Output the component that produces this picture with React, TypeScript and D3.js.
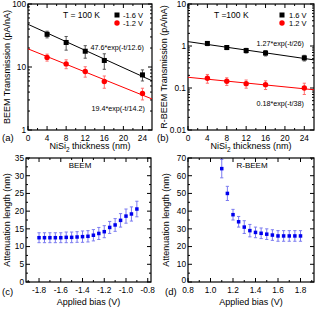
import React, { useRef, useEffect } from 'react';
import * as d3 from 'd3';

// (a)/(b) transmission vs NiSi2 thickness
const thickness = [4, 8, 12, 16, 24];
const beemHigh = [33, 24.5, 17.8, 12.7, 7.5];
const beemHighErr = [4, 6, 4, 3.5, 1.5];
const beemLow = [14.2, 11.2, 8.5, 5.9, 3.8];
const beemLowErr = [1.8, 1.8, 1.6, 1.3, 0.8];
const rbeemHigh = [1.15, 0.92, 0.78, 0.68, 0.52];
const rbeemHighErr = [0.13, 0.1, 0.1, 0.1, 0.08];
const rbeemLow = [0.17, 0.145, 0.127, 0.12, 0.1];
const rbeemLowErr = [0.04, 0.03, 0.028, 0.028, 0.03];

// fit parameters: amplitude, decay length
const beemFitHigh = [47.6, 12.6];
const beemFitLow = [19.4, 14.2];
const rbeemFitHigh = [1.27, 26];
const rbeemFitLow = [0.18, 38];

// (c)/(d) attenuation length vs bias
const biasC = [-1.8, -1.75, -1.7, -1.65, -1.6, -1.55, -1.5, -1.45, -1.4, -1.35, -1.3, -1.25, -1.2, -1.15, -1.1, -1.05, -1.0, -0.95, -0.9];
const attenC = [12.5, 12.5, 12.5, 12.5, 12.5, 12.6, 12.6, 12.7, 12.8, 12.9, 13.2, 13.7, 14.2, 15.4, 16.1, 17.4, 18.6, 19.2, 20.6];
const attenCErr = [1.4, 1.4, 1.4, 1.4, 1.4, 1.5, 1.5, 1.5, 1.6, 1.6, 1.6, 1.7, 1.7, 1.7, 1.8, 1.9, 2.0, 2.0, 2.2];
const biasD = [1.1, 1.15, 1.2, 1.25, 1.3, 1.35, 1.4, 1.45, 1.5, 1.55, 1.6, 1.65, 1.7, 1.75, 1.8];
const attenD = [64, 50, 38, 34, 31, 29, 28, 27.5, 27, 26.5, 26, 26, 26, 26, 26];
const attenDErr = [5.2, 4, 3, 3, 3.6, 3.5, 3, 3, 3, 3, 3, 3, 3, 3, 3];

// ticks
const thickTicks = [0, 4, 8, 12, 16, 20, 24];
const thickMinor = [2, 6, 10, 14, 18, 22];
const beemTicks = [1, 10, 100];
const beemTickLabels = ['1', '10', '100'];
const rbeemTicks = [0.01, 0.1, 1, 10];
const rbeemTickLabels = ['0.01', '0.1', '1', '10'];
const biasCTicks = [-1.8, -1.6, -1.4, -1.2, -1.0, -0.8];
const biasCLabels = ['-1.8', '-1.6', '-1.4', '-1.2', '-1.0', '-0.8'];
const biasCMinor = [-1.9, -1.7, -1.5, -1.3, -1.1, -0.9];
const biasDTicks = [0.8, 1.0, 1.2, 1.4, 1.6, 1.8];
const biasDLabels = ['0.8', '1.0', '1.2', '1.4', '1.6', '1.8'];
const biasDMinor = [0.9, 1.1, 1.3, 1.5, 1.7, 1.9];
const attenCTicks = [0, 5, 10, 15, 20, 25, 30, 35];
const attenCMinor = [2.5, 7.5, 12.5, 17.5, 22.5, 27.5, 32.5];
const attenDTicks = [0, 10, 20, 30, 40, 50, 60, 70];
const attenDMinor = [5, 15, 25, 35, 45, 55, 65];

const FONT = '"Liberation Sans", Arial, Helvetica, sans-serif';

const logMinor = (lo: number, hi: number) => {
  const out: number[] = [];
  for (let p = lo; p < hi; p *= 10) for (let k = 2; k <= 9; k++) out.push(p * k);
  return out;
};

const App = () => {
  const svgRef = useRef<SVGSVGElement>(null);

  useEffect(() => {
    const svg = d3.select(svgRef.current);
    svg.selectAll('*').remove();

    // frame with inward ticks on all four sides, plus tick labels
    const drawFrame = (x: any, y: any, o: any) => {
      const [x0, x1] = x.range();
      const [y0, y1] = y.range(); // y0 bottom, y1 top
      const g = svg.append('g');
      const tick = (vals: number[], len: number) => {
        vals.forEach((v) => {
          const px = x(v);
          g.append('line').attr('x1', px).attr('x2', px).attr('y1', y0).attr('y2', y0 - len);
          g.append('line').attr('x1', px).attr('x2', px).attr('y1', y1).attr('y2', y1 + len);
        });
      };
      const ytick = (vals: number[], len: number) => {
        vals.forEach((v) => {
          const py = y(v);
          g.append('line').attr('x1', x0).attr('x2', x0 + len).attr('y1', py).attr('y2', py);
          g.append('line').attr('x1', x1).attr('x2', x1 - len).attr('y1', py).attr('y2', py);
        });
      };
      tick(o.xMajor, 4);
      tick(o.xMinor, 2);
      ytick(o.yMajor, 4);
      ytick(o.yMinor, 2);
      g.selectAll('line').attr('stroke', '#000').attr('stroke-width', 1);
      g.append('rect')
        .attr('x', x0)
        .attr('y', y1)
        .attr('width', x1 - x0)
        .attr('height', y0 - y1)
        .attr('fill', 'none')
        .attr('stroke', '#000')
        .attr('stroke-width', 1.2);

      o.xMajor.forEach((v: number, i: number) => {
        g.append('text')
          .attr('x', x(v))
          .attr('y', y0 + 10.5)
          .attr('text-anchor', 'middle')
          .style('font-size', '8.3px')
          .text(o.xLabels[i]);
      });
      o.yMajor.forEach((v: number, i: number) => {
        g.append('text')
          .attr('x', x0 - 2)
          .attr('y', y(v) - (o.lift && i === 0 ? 2 : 0))
          .attr('dy', '0.35em')
          .attr('text-anchor', 'end')
          .style('font-size', '8.3px')
          .text(o.yLabels[i]);
      });

      // y title
      g.append('text')
        .attr('transform', `translate(${o.yTitleX}, ${(y0 + y1) / 2}) rotate(-90)`)
        .attr('text-anchor', 'middle')
        .style('font-size', '9px')
        .text(o.yTitle);

      // x title
      const xt = g
        .append('text')
        .attr('x', (x0 + x1) / 2)
        .attr('y', o.xTitleY)
        .attr('text-anchor', 'middle')
        .style('font-size', '9px');
      if (o.sub) {
        xt.append('tspan').text('NiSi');
        xt.append('tspan').attr('dy', 2.5).style('font-size', '6.5px').text('2');
        xt.append('tspan').attr('dy', -2.5).text(' thickness (nm)');
      } else {
        xt.text(o.xTitle);
      }

      g.append('text')
        .attr('x', o.tagX)
        .attr('y', o.tagY)
        .style('font-size', '9.5px')
        .text(o.tag);
      return g;
    };

    const errBars = (g: any, x: any, y: any, xs: number[], ys: number[], es: number[], color: string) => {
      xs.forEach((v, i) => {
        const px = x(v);
        const top = y(ys[i] + es[i]);
        const bot = y(ys[i] - es[i]);
        g.append('line').attr('x1', px).attr('x2', px).attr('y1', top).attr('y2', bot).attr('stroke', color);
        [top, bot].forEach((py) =>
          g.append('line').attr('x1', px - 1.6).attr('x2', px + 1.6).attr('y1', py).attr('y2', py).attr('stroke', color)
        );
      });
    };

    const squares = (g: any, x: any, y: any, xs: number[], ys: number[], size: number, color: string) => {
      xs.forEach((v, i) => {
        g.append('rect')
          .attr('x', x(v) - size / 2)
          .attr('y', y(ys[i]) - size / 2)
          .attr('width', size)
          .attr('height', size)
          .attr('fill', color);
      });
    };

    const circles = (g: any, x: any, y: any, xs: number[], ys: number[], r: number, color: string) => {
      xs.forEach((v, i) => {
        g.append('circle').attr('cx', x(v)).attr('cy', y(ys[i])).attr('r', r).attr('fill', color);
      });
    };

    const fitLine = (g: any, x: any, y: any, p: number[], color: string) => {
      const [t0, t1] = x.domain();
      const pts: [number, number][] = [t0, t1].map((t: number) => [x(t), y(p[0] * Math.exp(-t / p[1]))]);
      g.append('path').attr('d', d3.line()(pts)).attr('stroke', color).attr('stroke-width', 1).attr('fill', 'none');
    };

    const label = (g: any, x: number, y: number, txt: string, size: number, anchor = 'start') => {
      g.append('text').attr('x', x).attr('y', y).attr('text-anchor', anchor).style('font-size', `${size}px`).text(txt);
    };

    // ---- (a)
    const xa = d3.scaleLinear().domain([0, 26]).range([28, 152]);
    const ya = d3.scaleLog().domain([1, 100]).range([130, 4]);
    const ga = drawFrame(xa, ya, {
      xMajor: thickTicks, xMinor: thickMinor, xLabels: thickTicks.map(String),
      yMajor: beemTicks, yMinor: logMinor(1, 100), yLabels: beemTickLabels,
      yTitle: 'BEEM Transmission (pA/nA)', yTitleX: 10, xTitleY: 149, sub: true,
      tag: '(a)', tagX: 2, tagY: 141,
    });
    fitLine(ga, xa, ya, beemFitHigh, '#000');
    fitLine(ga, xa, ya, beemFitLow, '#ff0000');
    errBars(ga, xa, ya, thickness, beemHigh, beemHighErr, '#555');
    errBars(ga, xa, ya, thickness, beemLow, beemLowErr, '#ff7070');
    squares(ga, xa, ya, thickness, beemHigh, 5, '#000');
    circles(ga, xa, ya, thickness, beemLow, 2.7, '#ff0000');
    label(ga, 63, 18, 'T = 100 K', 8.5);
    ga.append('rect').attr('x', 114.5).attr('y', 12.5).attr('width', 5).attr('height', 5).attr('fill', '#000');
    label(ga, 123, 18, '-1.6 V', 7.5);
    ga.append('circle').attr('cx', 117).attr('cy', 23).attr('r', 2.7).attr('fill', '#ff0000');
    label(ga, 123, 26, '-1.2 V', 7.5);
    label(ga, 144, 50, '47.6*exp(-t/12.6)', 7.2, 'end');
    label(ga, 145, 111, '19.4*exp(-t/14.2)', 7.2, 'end');

    // ---- (b)
    const xb = d3.scaleLinear().domain([0, 26]).range([188, 314]);
    const yb = d3.scaleLog().domain([0.01, 10]).range([130, 4]);
    const gb = drawFrame(xb, yb, {
      xMajor: thickTicks, xMinor: thickMinor, xLabels: thickTicks.map(String),
      yMajor: rbeemTicks, yMinor: logMinor(0.01, 10), yLabels: rbeemTickLabels,
      yTitle: 'R-BEEM Transmission (pA/nA)', yTitleX: 167, xTitleY: 149, sub: true,
      tag: '(b)', tagX: 157, tagY: 141,
    });
    fitLine(gb, xb, yb, rbeemFitHigh, '#000');
    fitLine(gb, xb, yb, rbeemFitLow, '#ff0000');
    errBars(gb, xb, yb, thickness, rbeemHigh, rbeemHighErr, '#555');
    errBars(gb, xb, yb, thickness, rbeemLow, rbeemLowErr, '#ff7070');
    squares(gb, xb, yb, thickness, rbeemHigh, 5, '#000');
    circles(gb, xb, yb, thickness, rbeemLow, 2.7, '#ff0000');
    label(gb, 214, 18, 'T =100 K', 8.5);
    gb.append('rect').attr('x', 279.5).attr('y', 12.5).attr('width', 5).attr('height', 5).attr('fill', '#000');
    label(gb, 289, 18, '1.6 V', 7.5);
    gb.append('circle').attr('cx', 282).attr('cy', 23).attr('r', 2.7).attr('fill', '#ff0000');
    label(gb, 289, 26, '1.2 V', 7.5);
    label(gb, 304, 46, '1.27*exp(-t/26)', 7.2, 'end');
    label(gb, 304, 106, '0.18*exp(-t/38)', 7.2, 'end');

    // ---- (c)
    const xc = d3.scaleLinear().domain([-1.92, -0.77]).range([26, 151]);
    const yc = d3.scaleLinear().domain([0, 35]).range([282, 158]);
    const gc = drawFrame(xc, yc, {
      xMajor: biasCTicks, xMinor: biasCMinor, xLabels: biasCLabels,
      yMajor: attenCTicks, yMinor: attenCMinor, yLabels: attenCTicks.map(String),
      yTitle: 'Attenuation length (nm)', yTitleX: 10, xTitleY: 305, xTitle: 'Applied bias (V)',
      tag: '(c)', tagX: 2, tagY: 295,
    });
    errBars(gc, xc, yc, biasC, attenC, attenCErr, '#7b7bf0');
    squares(gc, xc, yc, biasC, attenC, 3.5, '#0000ee');
    label(gc, 80, 168, 'BEEM', 8, 'middle');

    // ---- (d)
    const xd = d3.scaleLinear().domain([0.8, 1.92]).range([188, 314]);
    const yd = d3.scaleLinear().domain([0, 70]).range([282, 158]);
    const gd = drawFrame(xd, yd, {
      xMajor: biasDTicks, xMinor: biasDMinor, xLabels: biasDLabels,
      yMajor: attenDTicks, yMinor: attenDMinor, yLabels: attenDTicks.map(String),
      yTitle: 'Attenuation length (nm)', yTitleX: 169, xTitleY: 305, xTitle: 'Applied bias (V)',
      tag: '(d)', tagX: 165, tagY: 295, lift: true,
    });
    errBars(gd, xd, yd, biasD, attenD, attenDErr, '#7b7bf0');
    squares(gd, xd, yd, biasD, attenD, 3.5, '#0000ee');
    label(gd, 252, 168, 'R-BEEM', 8, 'middle');

    svg.selectAll('text').style('font-family', FONT).attr('fill', '#000');
  }, []);

  return (
    <svg
      ref={svgRef}
      width={317}
      height={310}
      style={{ position: 'absolute', left: 0, top: 0, background: '#fff' }}
    />
  );
};

export default App;
